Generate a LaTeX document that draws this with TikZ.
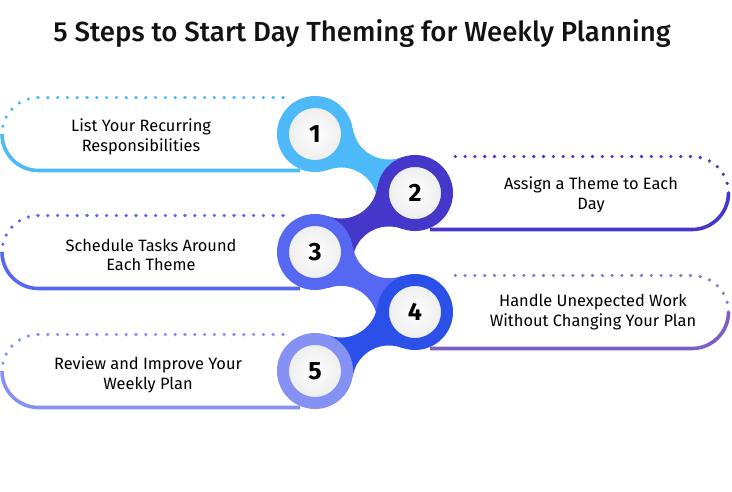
\documentclass[tikz,border=0pt]{standalone}
\usepackage{fontspec}
\setmainfont{Fira Sans}
\newfontfamily\titlefont{Fira Sans Medium}
\usepackage{xcolor}
\usetikzlibrary{calc}

\definecolor{stepA}{HTML}{4DB9F8}
\definecolor{stepB}{HTML}{4537C9}
\definecolor{stepC}{HTML}{5668F1}
\definecolor{stepD}{HTML}{2B50E9}
\definecolor{stepE}{HTML}{8592F3}
\definecolor{cardD}{HTML}{7D5EC6}

\tikzset{
  stepring/.style={circle, draw=#1, line width=12pt, minimum size=64pt, inner sep=0pt,
    inner color=white, outer color=gray!16, font=\fontsize{25}{25}\selectfont\bfseries},
  dotline/.style={draw=#1, line width=3.6pt, line cap=round, dash pattern=on 0pt off 9.8pt},
  solidline/.style={draw=#1, line width=3.6pt},
  steptext/.style={align=center, font=\fontsize{16.4}{19.5}\selectfont, text=black}
}

\begin{document}
\begin{tikzpicture}[x=1pt, y=-1pt]
            \useasboundingbox (0,0) rectangle (732,491);
            % Title
            \node[font=\titlefont\fontsize{27.6}{30}\selectfont, text=black!93] (title) at (362,34)
                {5 Steps to Start Day Theming for Weekly Planning};

            % centres of the rings
            \coordinate (p1) at (315,134);
            \coordinate (p2) at (415,193);
            \coordinate (p3) at (315,252);
            \coordinate (p4) at (415,312);
            \coordinate (p5) at (315,371);

            % necks between the rings
            \foreach \a/\b/\col in {p1/p2/stepA, p2/p3/stepB, p3/p4/stepC, p4/p5/stepD}
            {
                \coordinate (m) at ($(\a)!0.5!(\b)$);
                \coordinate (q1) at ($(m)!47pt!90:(\b)$);
                \coordinate (q2) at ($(m)!47pt!-90:(\b)$);
                \begin{scope}
                    \clip (\a) -- (q1) -- (\b) -- (q2) -- cycle;
                    \fill[\col, even odd rule] (m) circle[radius=150]
                        (q1) circle[radius=36.5] (q2) circle[radius=36.5];
                \end{scope}
            }

            % left cards
            \foreach \y/\col in {134/stepA, 252/stepC, 371/stepE}
            {
                \draw[dotline=\col] (283,\y-36.5) -- (38.5,\y-36.5)
                    arc[start angle=-90, end angle=-180, radius=36.5];
                \draw[solidline=\col] (2,\y) arc[start angle=180, end angle=90, radius=36.5]
                    -- (300,\y+36.5);
            }
            % right cards
            \foreach \y/\col/\dcol in {193/stepB/stepB, 312/cardD/cardD!85!white}
            {
                \draw[dotline=\dcol] (728.5,\y) arc[start angle=0, end angle=-90, radius=36.5]
                    -- (450,\y-36.5);
                \draw[solidline=\col] (430,\y+36.5) -- (692,\y+36.5)
                    arc[start angle=90, end angle=0, radius=36.5];
            }

            % rings
            \node[stepring=stepA] (s1) at (p1) {1};
            \node[stepring=stepB] (s2) at (p2) {2};
            \node[stepring=stepC] (s3) at (p3) {3};
            \node[stepring=stepD] (s4) at (p4) {4};
            \node[stepring=stepE] (s5) at (p5) {5};

            % card texts
            \node[steptext] (t1) at (141,137) {List Your Recurring\\Responsibilities};
            \node[steptext] (t2) at (591,195) {Assign a Theme to Each\\Day};
            \node[steptext] (t3) at (151,255) {Schedule Tasks Around\\Each Theme};
            \node[steptext] (t4) at (593,312) {Handle Unexpected Work\\Without Changing Your Plan};
            \node[steptext] (t5) at (148,375) {Review and Improve Your\\Weekly Plan};
\end{tikzpicture}
\end{document}
